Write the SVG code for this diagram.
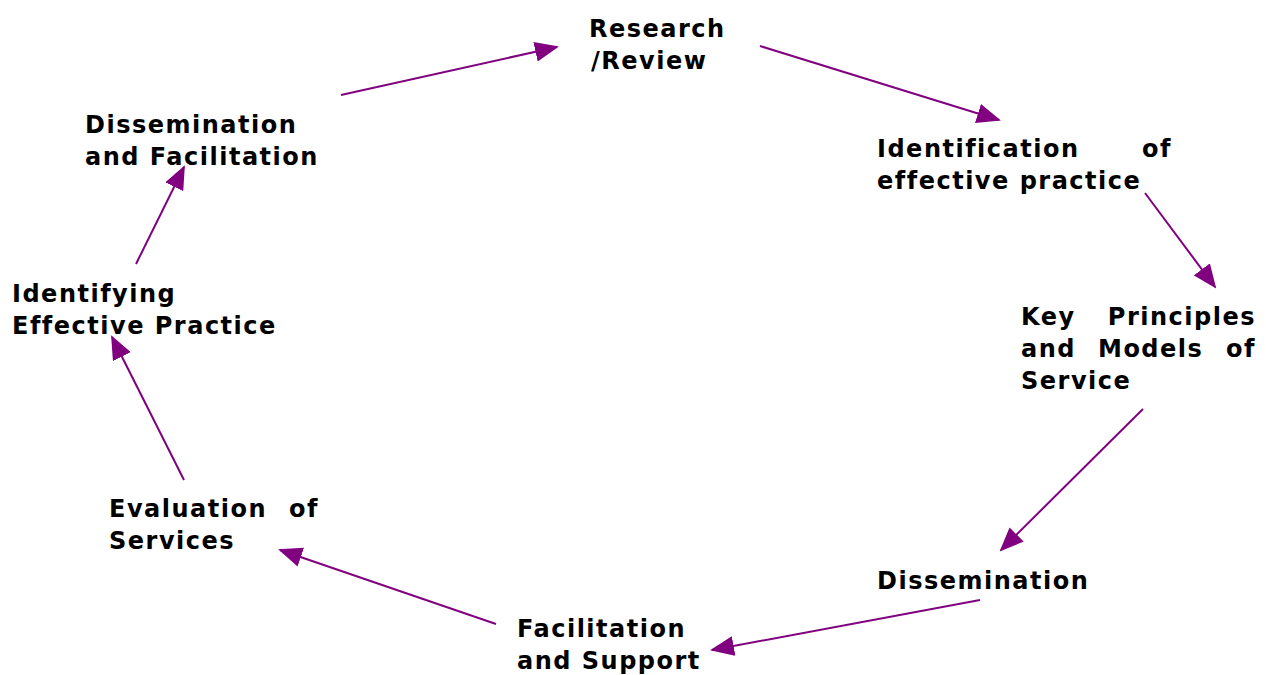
<svg xmlns="http://www.w3.org/2000/svg" width="1266" height="675" viewBox="0 0 1266 675">
<style>
text{font-family:"DejaVu Sans",Verdana,sans-serif;font-weight:bold;font-size:24px;letter-spacing:1.5px;fill:#000}
.c line{stroke:#800080;stroke-width:2;fill:none;marker-end:url(#ah)}
</style>
<defs>
<marker id="ah" markerUnits="userSpaceOnUse" markerWidth="24" markerHeight="20" viewBox="0 0 24 20" refX="22" refY="10" orient="auto">
<path d="M0,0 L24,10 L0,20 Z" fill="#800080"/>
</marker>
</defs>
<rect width="1266" height="675" fill="#fff"/>
<g id="n1"><text x="589" y="37">Research</text><text x="591" y="69">/Review</text></g>
<g id="n2"><text x="877" y="157">Identification</text><text x="1172" y="157" text-anchor="end">of</text><text x="877" y="189">effective practice</text></g>
<g id="n3"><text x="1021" y="325">Key</text><text x="1256" y="325" text-anchor="end">Principles</text><text x="1021" y="357">and</text><text x="1098" y="357">Models</text><text x="1256" y="357" text-anchor="end">of</text><text x="1021" y="389">Service</text></g>
<g id="n4"><text x="877" y="589">Dissemination</text></g>
<g id="n5"><text x="517" y="637">Facilitation</text><text x="517" y="669">and Support</text></g>
<g id="n6"><text x="109" y="517">Evaluation</text><text x="319" y="517" text-anchor="end">of</text><text x="109" y="549">Services</text></g>
<g id="n7"><text x="12" y="302">Identifying</text><text x="12" y="334">Effective Practice</text></g>
<g id="n8"><text x="85" y="133">Dissemination</text><text x="85" y="165">and Facilitation</text></g>
<g class="c" id="connectors">
<line x1="341" y1="95" x2="557" y2="47"/>
<line x1="760" y1="46" x2="999" y2="120"/>
<line x1="1145" y1="193" x2="1215" y2="287"/>
<line x1="1143" y1="409" x2="1001" y2="550"/>
<line x1="980" y1="600" x2="712" y2="650"/>
<line x1="496" y1="624" x2="280" y2="550"/>
<line x1="184" y1="480" x2="112" y2="337"/>
<line x1="136" y1="264" x2="184" y2="167"/>
</g>
</svg>
